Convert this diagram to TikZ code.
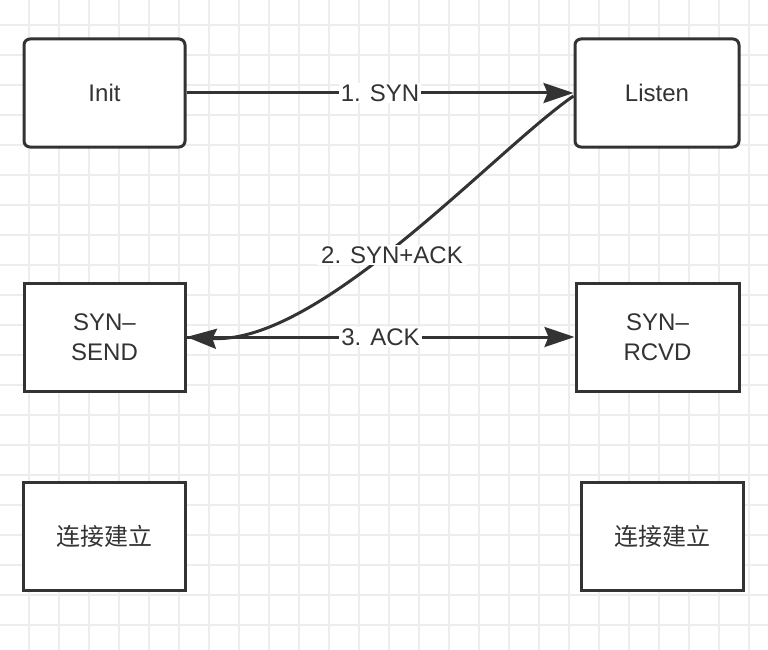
\documentclass[tikz,border=0pt]{standalone}
\usepackage{fontspec}
\setmainfont{Liberation Sans}
\newfontfamily\cjk{Noto Sans CJK SC}
\usetikzlibrary{arrows.meta}
\definecolor{ink}{HTML}{333333}
\definecolor{gridc}{HTML}{EDEDED}
\tikzset{
  gridline/.style={draw=gridc, line width=2pt},
  state/.style={draw=ink, line width=3pt, fill=white, text=ink, align=center,
    font=\fontsize{24}{30}\selectfont, inner sep=0pt},
  rstate/.style={state, rounded corners=6pt},
  conn/.style={draw=ink, line width=3pt, -{Stealth[length=30pt,width=20pt,inset=4pt]}},
  lbl/.style={fill=white, text=ink, font=\fontsize{24}{30}\selectfont, inner sep=2pt}
}
\begin{document}
\begin{tikzpicture}[x=1pt,y=-1pt]
\useasboundingbox (0,0) rectangle (768,650);
\fill[white] (0,0) rectangle (768,650);
\foreach \x in {29,59,...,749} \draw[gridline] (\x,0) -- (\x,650);
\foreach \y in {25,55,...,625} \draw[gridline] (0,\y) -- (768,\y);

\node[rstate, minimum width=161pt, minimum height=108pt] (init) at (104.5,93) {Init};
\node[rstate, minimum width=164pt, minimum height=108pt] (listen) at (657,93) {Listen};
\node[state, minimum width=161pt, minimum height=108pt] (synsend) at (104.5,337) {SYN–\\SEND};
\node[state, minimum width=163pt, minimum height=108pt] (synrcvd) at (657.5,337) {SYN–\\RCVD};
\node[state, minimum width=162pt, minimum height=108pt] (estl) at (104,536) {\cjk 连接建立};
\node[state, minimum width=162pt, minimum height=108pt] (estr) at (662,536) {\cjk 连接建立};

\draw[conn] (init.east) -- node[lbl] (l1) {1. SYN} (listen.west);
\draw[conn] ([yshift=-3pt]listen.west) .. controls (495,150) and (320,345) .. (synsend.east);
\node[lbl, inner xsep=4pt] (l2) at (392,255) {2. SYN+ACK};
\draw[conn] (synsend.east) -- node[lbl] (l3) {3. ACK} (synrcvd.west);
\end{tikzpicture}
\end{document}
